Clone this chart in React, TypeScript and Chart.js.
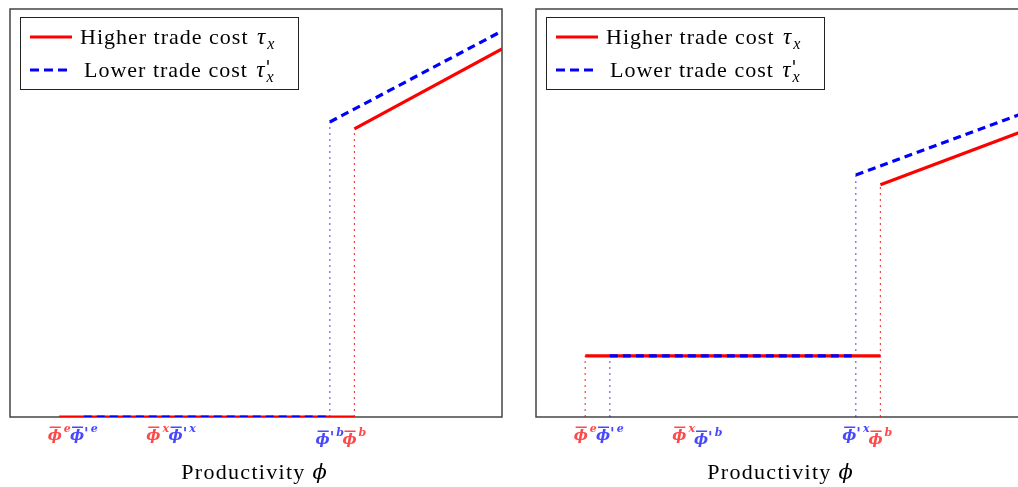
import { useEffect, useRef } from "react";
import { Chart, registerables } from "chart.js";
Chart.register(...registerables);

// ---- data ----
const X_MIN = 0;
const X_MAX = 10;
const Y_MIN = 0;
const Y_MAX = 10;

const PHI_POSITIONS = [1.0, 1.5, 3.0, 3.5, 6.5, 7.0];
const LEFT_TICK_LABELS = ["e", "'e", "x", "'x", "'b", "b"];
const RIGHT_TICK_LABELS = ["e", "'e", "x", "'b", "'x", "b"];
const TICK_SERIES = ["red", "blue", "red", "blue", "blue", "red"];

const LEFT_RED_X = [1.0, 7.0, 7.0, 10.0];
const LEFT_RED_Y = [0, 0, 7.06, 9.02];
const LEFT_BLUE_X = [1.5, 6.5, 6.5, 10.0];
const LEFT_BLUE_Y = [0, 0, 7.23, 9.46];

const RIGHT_RED_X = [1.0, 7.0, 7.0, 10.0];
const RIGHT_RED_Y = [1.5, 1.5, 5.69, 7.05];
const RIGHT_BLUE_X = [1.5, 6.5, 6.5, 10.0];
const RIGHT_BLUE_Y = [1.5, 1.5, 5.93, 7.49];

const LEGEND_RED = "Higher trade cost ";
const LEGEND_BLUE = "Lower trade cost ";
const X_TITLE = "Productivity ";

// ---- styling ----
const RED = "#ff0000";
const BLUE = "#0000ff";
const RED_GUIDE = "rgba(255,0,0,0.75)";
const BLUE_GUIDE = "rgba(0,0,255,0.6)";
const RED_LABEL = "rgba(255,40,40,0.85)";
const BLUE_LABEL = "rgba(40,40,255,0.85)";
const SERIF = "'Liberation Serif', serif";
const MATH = "'DejaVu Serif', serif";

type Pt = { x: number; y: number | null };

function toLine(xs: number[], ys: number[]): Pt[] {
  const out: Pt[] = [];
  for (let i = 0; i < xs.length; i++) {
    if (i > 0 && xs[i] === xs[i - 1]) out.push({ x: xs[i], y: null });
    out.push({ x: xs[i], y: ys[i] });
  }
  return out;
}

function levelAt(xs: number[], ys: number[], pos: number): number {
  let best = 0;
  for (let i = 0; i < xs.length; i++) if (xs[i] === pos) best = Math.max(best, ys[i]);
  return best;
}

function guides(series: string, xs: number[], ys: number[]): Pt[] {
  const out: Pt[] = [];
  PHI_POSITIONS.forEach((p, i) => {
    if (TICK_SERIES[i] !== series) return;
    const top = levelAt(xs, ys, p);
    if (top <= 0) return;
    out.push({ x: p, y: 0 }, { x: p, y: top }, { x: p, y: null });
  });
  return out;
}

function drawPhiLabel(ctx: CanvasRenderingContext2D, cx: number, spec: string, color: string) {
  const prime = spec.startsWith("'");
  const sup = prime ? spec.slice(1) : spec;
  const phiFont = `italic bold 15px ${MATH}`;
  const primeFont = `italic bold 15px 'DejaVu Sans', sans-serif`;
  const supFont = `italic bold 11px ${MATH}`;
  ctx.save();
  ctx.fillStyle = color;
  ctx.strokeStyle = color;
  ctx.textBaseline = "alphabetic";
  ctx.font = phiFont;
  const wPhi = ctx.measureText("ϕ").width;
  ctx.font = primeFont;
  const wPrime = prime ? ctx.measureText("'").width : 0;
  ctx.font = supFont;
  const wSup = ctx.measureText(sup).width;
  const total = wPhi + wPrime + 2 + wSup;
  let x = cx - total / 2;
  const base = 440 + (sup === "b" ? 4 : 0);
  ctx.font = phiFont;
  ctx.fillText("ϕ", x, base);
  ctx.fillRect(x + 2, base - 13.5, wPhi - 3, 1.5);
  x += wPhi;
  if (prime) {
    ctx.font = primeFont;
    ctx.fillText("'", x, base - 1);
    x += wPrime;
  }
  x += 2;
  ctx.font = supFont;
  ctx.fillText(sup, x, base - 8);
  ctx.restore();
}

function makePanelPlugin(tickLabels: string[]) {
  return {
    id: "panelDecor",
    beforeDatasetsDraw(chart: any) {
      const { ctx, chartArea } = chart;
      ctx.save();
      ctx.strokeStyle = "#444";
      ctx.lineWidth = 1.5;
      ctx.strokeRect(chartArea.left, chartArea.top, chartArea.right - chartArea.left, chartArea.bottom - chartArea.top);
      ctx.restore();
    },
    afterDatasetsDraw(chart: any) {
      const { ctx, chartArea, scales } = chart;
      const xs = scales.x;
      // legend
      const lx = chartArea.left + 10;
      const ly = chartArea.top + 8;
      ctx.save();
      ctx.fillStyle = "#fff";
      ctx.fillRect(lx, ly, 278, 72);
      ctx.strokeStyle = "#222";
      ctx.lineWidth = 1;
      ctx.strokeRect(lx + 0.5, ly + 0.5, 278, 72);
      ctx.lineWidth = 3;
      ctx.strokeStyle = RED;
      ctx.beginPath();
      ctx.moveTo(lx + 10, ly + 20);
      ctx.lineTo(lx + 52, ly + 20);
      ctx.stroke();
      ctx.strokeStyle = BLUE;
      ctx.setLineDash([9, 5]);
      ctx.beginPath();
      ctx.moveTo(lx + 10, ly + 53);
      ctx.lineTo(lx + 52, ly + 53);
      ctx.stroke();
      ctx.setLineDash([]);
      ctx.fillStyle = "#000";
      ctx.textBaseline = "alphabetic";
      (ctx as any).letterSpacing = "1px";
      ctx.font = `22px ${SERIF}`;
      ctx.fillText(LEGEND_RED, lx + 60, ly + 27);
      const w1 = ctx.measureText(LEGEND_RED).width + 2;
      ctx.fillText(LEGEND_BLUE, lx + 64, ly + 60);
      const w2 = ctx.measureText(LEGEND_BLUE).width + 2;
      (ctx as any).letterSpacing = "0px";
      ctx.font = `italic 23px ${SERIF}`;
      ctx.fillText("τ", lx + 60 + w1, ly + 27);
      const wt = ctx.measureText("τ").width;
      ctx.fillText("τ", lx + 64 + w2, ly + 60);
      ctx.font = `italic 16px ${SERIF}`;
      ctx.fillText("x", lx + 60 + w1 + wt + 2, ly + 32);
      ctx.fillText("x", lx + 64 + w2 + wt + 2, ly + 65);
      ctx.font = `italic 18px 'DejaVu Sans', sans-serif`;
      ctx.fillText("'", lx + 64 + w2 + wt + 1, ly + 56);
      // tick labels
      PHI_POSITIONS.forEach((p, i) => {
        const px = xs.getPixelForValue(p);
        drawPhiLabel(ctx, px, tickLabels[i], TICK_SERIES[i] === "red" ? RED_LABEL : BLUE_LABEL);
      });
      // axis title
      (ctx as any).letterSpacing = "1.3px";
      ctx.font = `22px ${SERIF}`;
      const wT = ctx.measureText(X_TITLE).width;
      (ctx as any).letterSpacing = "0px";
      ctx.font = `italic 21px ${MATH}`;
      const wPhi = ctx.measureText("ϕ").width;
      const cx = (chartArea.left + chartArea.right) / 2 - 2;
      const tx = cx - (wT + wPhi) / 2;
      (ctx as any).letterSpacing = "1.3px";
      ctx.font = `22px ${SERIF}`;
      ctx.fillText(X_TITLE, tx, 479);
      (ctx as any).letterSpacing = "0px";
      ctx.font = `italic 21px ${MATH}`;
      ctx.fillText("ϕ", tx + wT, 479);
      ctx.restore();
    },
  };
}

function Panel(props: {
  left: number;
  redX: number[];
  redY: number[];
  blueX: number[];
  blueY: number[];
  tickLabels: string[];
}) {
  const ref = useRef<HTMLCanvasElement>(null);
  useEffect(() => {
    if (!ref.current) return;
    const chart = new Chart(ref.current, {
      type: "line",
      data: {
        datasets: [
          {
            label: "Lower trade cost",
            data: toLine(props.blueX, props.blueY) as any,
            borderColor: BLUE,
            borderWidth: 3.2,
            borderDash: [8, 5],
            pointRadius: 0,
            fill: false,
            tension: 0,
          },
          {
            label: "Higher trade cost",
            data: toLine(props.redX, props.redY) as any,
            borderColor: RED,
            borderWidth: 3.2,
            pointRadius: 0,
            fill: false,
            tension: 0,
          },
          {
            label: "red guides",
            data: guides("red", props.redX, props.redY) as any,
            borderColor: RED_GUIDE,
            borderWidth: 1.2,
            borderDash: [2, 4],
            pointRadius: 0,
            fill: false,
          },
          {
            label: "blue guides",
            data: guides("blue", props.blueX, props.blueY) as any,
            borderColor: BLUE_GUIDE,
            borderWidth: 1.2,
            borderDash: [2, 4],
            pointRadius: 0,
            fill: false,
          },
        ],
      },
      options: {
        responsive: false,
        animation: false,
        events: [],
        layout: { padding: { left: 10, right: 10, top: 9, bottom: 70 } },
        plugins: { legend: { display: false }, tooltip: { enabled: false } },
        scales: {
          x: { type: "linear", min: X_MIN, max: X_MAX, display: false },
          y: { type: "linear", min: Y_MIN, max: Y_MAX, display: false },
        },
      },
      plugins: [makePanelPlugin(props.tickLabels)],
    });
    return () => chart.destroy();
  }, []);
  return (
    <canvas
      ref={ref}
      width={512}
      height={487}
      style={{ position: "absolute", left: props.left, top: 0, width: 512, height: 487 }}
    />
  );
}

export default function App() {
  return (
    <div
      style={{
        position: "absolute",
        left: 0,
        top: 0,
        width: 1018,
        height: 487,
        overflow: "hidden",
        background: "#fff",
      }}
    >
      <Panel left={0} redX={LEFT_RED_X} redY={LEFT_RED_Y} blueX={LEFT_BLUE_X} blueY={LEFT_BLUE_Y} tickLabels={LEFT_TICK_LABELS} />
      <Panel left={526} redX={RIGHT_RED_X} redY={RIGHT_RED_Y} blueX={RIGHT_BLUE_X} blueY={RIGHT_BLUE_Y} tickLabels={RIGHT_TICK_LABELS} />
    </div>
  );
}
